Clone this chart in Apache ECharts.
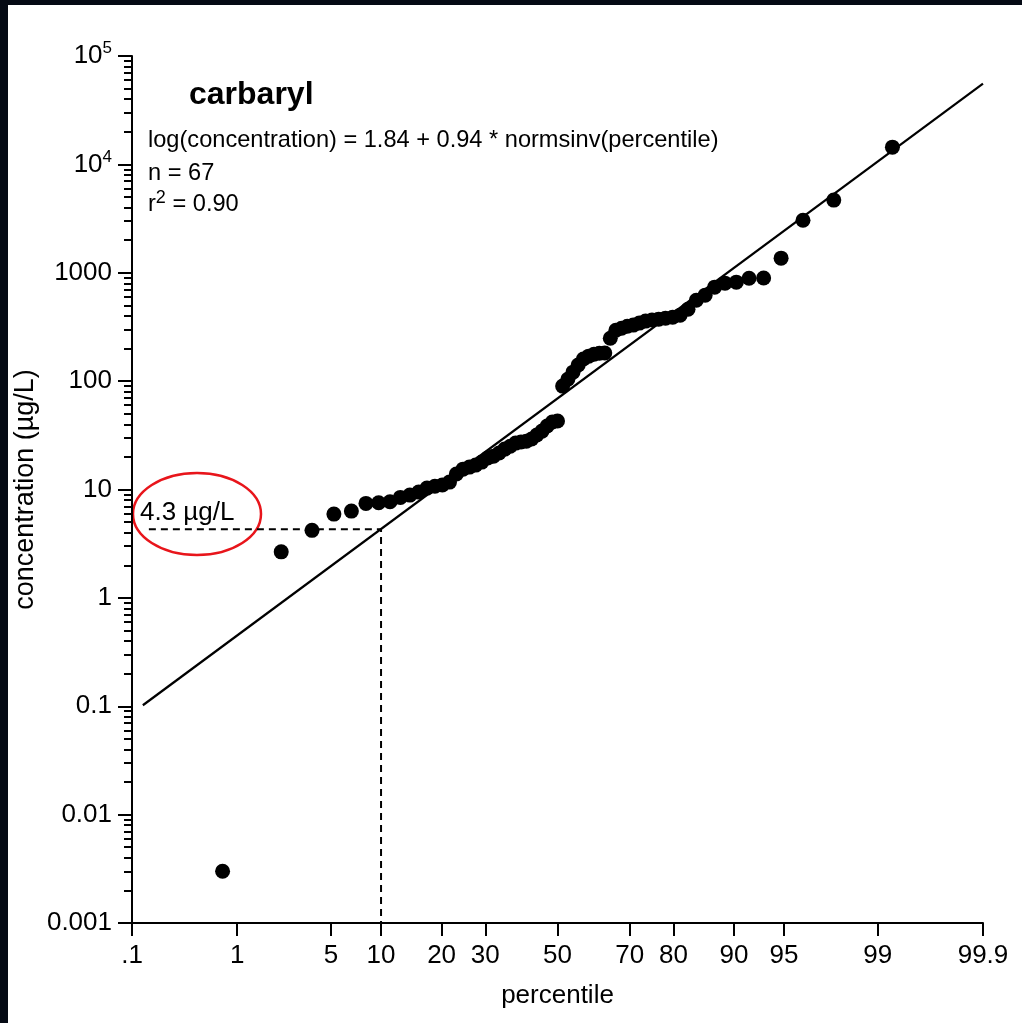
<!DOCTYPE html>
<html>
<head>
<meta charset="utf-8">
<script src="https://cdn.jsdelivr.net/npm/echarts@6/dist/echarts.min.js"></script>
<style>
  html, body { margin: 0; padding: 0; background: #fff; }
  #chart { width: 1022px; height: 1023px; }
</style>
</head>
<body>
<div id="chart"></div>
<script>
// plotting position of each sample (percentile) and its concentration (ug/L)
const percentiles = [
  0.75, 2.24, 3.73, 5.22, 6.72, 8.21, 9.70, 11.19, 12.69, 14.18,
  15.67, 17.16, 18.66, 20.15, 21.64, 23.13, 24.63, 26.12, 27.61, 29.10,
  30.60, 32.09, 33.58, 35.07, 36.57, 38.06, 39.55, 41.04, 42.54, 44.03,
  45.52, 47.01, 48.51, 50.00, 51.49, 52.99, 54.48, 55.97, 57.46, 58.96,
  60.45, 61.94, 63.43, 64.93, 66.42, 67.91, 69.40, 70.90, 72.39, 73.88,
  75.37, 76.87, 78.36, 79.85, 81.34, 82.84, 84.33, 85.82, 87.31, 88.81,
  90.30, 91.79, 93.28, 94.78, 96.27, 97.76, 99.25
];
const concentrations = [
  0.003, 2.66, 4.2, 5.93, 6.32, 7.44, 7.54, 7.71, 8.45, 8.88,
  9.46, 10.3, 10.7, 11.0, 11.7, 13.9, 15.4, 16.1, 16.8, 17.9,
  19.5, 20.3, 21.7, 23.6, 25.1, 26.8, 27.4, 27.9, 29.2, 31.8,
  34.6, 38.5, 41.9, 42.8, 90, 104, 121, 141, 160, 170,
  177, 181, 182, 249, 295, 308, 321, 329, 343, 358,
  366, 373, 381, 389, 406, 461, 558, 621, 736, 802,
  819, 891, 895, 1364, 3055, 4680, 14420
];

// x axis: percentiles on a normal probability scale
const xTickPercentiles = [0.1, 1, 5, 10, 20, 30, 50, 70, 80, 90, 95, 99, 99.9];
const xTickLabels = ['.1', '1', '5', '10', '20', '30', '50', '70', '80', '90', '95', '99', '99.9'];
// y axis: log decades 10^-3 .. 10^5
const yMajorTicks = [0.001, 0.01, 0.1, 1, 10, 100, 1000, 10000, 100000];
const yMajorLabels = ['0.001', '0.01', '0.1', '1', '10', '100', '1000', '{b|10}{s|4}', '{b|10}{s|5}'];

// regression: log(c) = 1.84 + 0.94 * normsinv(p)
const fitIntercept = 1.84;
const fitSlope = 0.94;
const fitPercentiles = [0.13, 99.9];
// 10th percentile guide
const guideValue = 4.3;
const guidePercentiles = [0.15, 10];

const FONT = '"Liberation Sans", Arial, sans-serif';

// inverse standard normal (Acklam)
function normsinv(p) {
  const a = [-3.969683028665376e+01, 2.209460984245205e+02, -2.759285104469687e+02, 1.383577518672690e+02, -3.066479806614716e+01, 2.506628277459239e+00];
  const b = [-5.447609879822406e+01, 1.615858368580409e+02, -1.556989798598866e+02, 6.680131188771972e+01, -1.328068155288572e+01];
  const c = [-7.784894002430293e-03, -3.223964580411365e-01, -2.400758277161838e+00, -2.549732539343734e+00, 4.374664141464968e+00, 2.938163982698783e+00];
  const d = [7.784695709041462e-03, 3.224671290700398e-01, 2.445134137142996e+00, 3.754408661907416e+00];
  const pl = 0.02425;
  let q, r;
  if (p < pl) {
    q = Math.sqrt(-2 * Math.log(p));
    return (((((c[0] * q + c[1]) * q + c[2]) * q + c[3]) * q + c[4]) * q + c[5]) / ((((d[0] * q + d[1]) * q + d[2]) * q + d[3]) * q + 1);
  }
  if (p > 1 - pl) {
    q = Math.sqrt(-2 * Math.log(1 - p));
    return -(((((c[0] * q + c[1]) * q + c[2]) * q + c[3]) * q + c[4]) * q + c[5]) / ((((d[0] * q + d[1]) * q + d[2]) * q + d[3]) * q + 1);
  }
  q = p - 0.5;
  r = q * q;
  return (((((a[0] * r + a[1]) * r + a[2]) * r + a[3]) * r + a[4]) * r + a[5]) * q / (((((b[0] * r + b[1]) * r + b[2]) * r + b[3]) * r + b[4]) * r + 1);
}
const pz = (pct) => normsinv(pct / 100);

const xTickZ = xTickPercentiles.map(pz);
const yMinorTicks = [];
for (let e = -3; e < 5; e++) {
  for (let m = 2; m <= 9; m++) yMinorTicks.push(m * Math.pow(10, e));
}

const points = percentiles.map((p, i) => [pz(p), concentrations[i]]);
const fitLine = fitPercentiles.map((p) => [pz(p), Math.pow(10, fitIntercept + fitSlope * pz(p))]);
const guideLine = [
  [pz(guidePercentiles[0]), guideValue],
  [pz(guidePercentiles[1]), guideValue],
  [pz(guidePercentiles[1]), 0.001]
];

const chart = echarts.init(document.getElementById('chart'));

const option = {
  animation: false,
  backgroundColor: '#fff',
  textStyle: { fontFamily: FONT, color: '#000' },
  grid: { left: 132, right: 39, top: 56, bottom: 100, outerBoundsMode: 'none' },
  xAxis: {
    type: 'value',
    min: pz(0.1),
    max: pz(99.9),
    name: 'percentile',
    nameLocation: 'middle',
    nameGap: 60,
    nameTextStyle: { fontSize: 26, color: '#000', fontFamily: FONT },
    axisLine: { onZero: false, lineStyle: { color: '#000', width: 2 } },
    axisTick: { show: true, length: 13, lineStyle: { color: '#000', width: 2 }, customValues: xTickZ },
    axisLabel: {
      customValues: xTickZ,
      margin: 20,
      fontSize: 26,
      color: '#000',
      fontFamily: FONT,
      formatter: (v) => {
        let best = 0;
        xTickZ.forEach((z, i) => { if (Math.abs(z - v) < Math.abs(xTickZ[best] - v)) best = i; });
        return xTickLabels[best];
      }
    },
    splitLine: { show: false }
  },
  yAxis: [
    {
      type: 'log',
      logBase: 10,
      min: 0.001,
      max: 100000,
      name: 'concentration (µg/L)',
      nameLocation: 'middle',
      nameGap: 93,
      nameMoveOverlap: false,
      nameTextStyle: { fontSize: 27, color: '#000', fontFamily: FONT },
      axisLine: { show: true, onZero: false, lineStyle: { color: '#000', width: 2 } },
      axisTick: { show: true, length: 14, lineStyle: { color: '#000', width: 2 }, customValues: yMajorTicks },
      axisLabel: {
        customValues: yMajorTicks,
        margin: 20,
        fontSize: 26,
        color: '#000',
        fontFamily: FONT,
        formatter: (v) => yMajorLabels[Math.round(Math.log10(v)) + 3],
        rich: {
          b: { fontSize: 26, lineHeight: 32, color: '#000', fontFamily: FONT },
          s: { fontSize: 17, lineHeight: 17, verticalAlign: 'top', color: '#000', fontFamily: FONT }
        }
      },
      splitLine: { show: false }
    },
    {
      type: 'log',
      logBase: 10,
      min: 0.001,
      max: 100000,
      position: 'left',
      axisLine: { show: false, onZero: false },
      axisTick: { show: true, length: 8, lineStyle: { color: '#000', width: 2 }, customValues: yMinorTicks },
      axisLabel: { show: false },
      splitLine: { show: false }
    }
  ],
  series: [
    {
      type: 'line',
      data: fitLine,
      showSymbol: false,
      lineStyle: { color: '#000', width: 2.2 },
      z: 2
    },
    {
      type: 'line',
      data: guideLine,
      showSymbol: false,
      lineStyle: { color: '#000', width: 2, type: [7, 5] },
      z: 2
    },
    {
      type: 'scatter',
      data: points,
      symbol: 'circle',
      symbolSize: 15,
      itemStyle: { color: '#000', opacity: 1 },
      z: 3
    }
  ],
  graphic: [
    { type: 'rect', shape: { x: 0, y: 0, width: 8, height: 1023 }, style: { fill: '#050a14' }, z: 100 },
    { type: 'rect', shape: { x: 0, y: 0, width: 1022, height: 5 }, style: { fill: '#050a14' }, z: 100 },
    {
      type: 'text', x: 189, y: 95,
      style: { text: 'carbaryl', font: 'bold 32px ' + FONT, fill: '#000', verticalAlign: 'middle' }
    },
    {
      type: 'text', x: 148, y: 140,
      style: { text: 'log(concentration) = 1.84 + 0.94 * normsinv(percentile)', font: '23.6px ' + FONT, fill: '#000', verticalAlign: 'middle' }
    },
    {
      type: 'text', x: 148, y: 173,
      style: { text: 'n = 67', font: '23.6px ' + FONT, fill: '#000', verticalAlign: 'middle' }
    },
    {
      type: 'text', x: 148, y: 204,
      style: {
        text: '{r|r}{s|2}{r| = 0.90}',
        verticalAlign: 'middle',
        rich: {
          r: { fontSize: 23.6, lineHeight: 30, fontFamily: FONT, fill: '#000', color: '#000' },
          s: { fontSize: 18, lineHeight: 18, verticalAlign: 'top', fontFamily: FONT, fill: '#000', color: '#000' }
        }
      }
    },
    {
      type: 'ellipse',
      shape: { cx: 197, cy: 514, rx: 64, ry: 41 },
      style: { fill: null, stroke: '#e8151b', lineWidth: 2.5 }
    },
    {
      type: 'text', x: 140, y: 513,
      style: { text: '4.3 µg/L', font: '26px ' + FONT, fill: '#000', verticalAlign: 'middle' }
    }
  ]
};

chart.setOption(option);
</script>
</body>
</html>
